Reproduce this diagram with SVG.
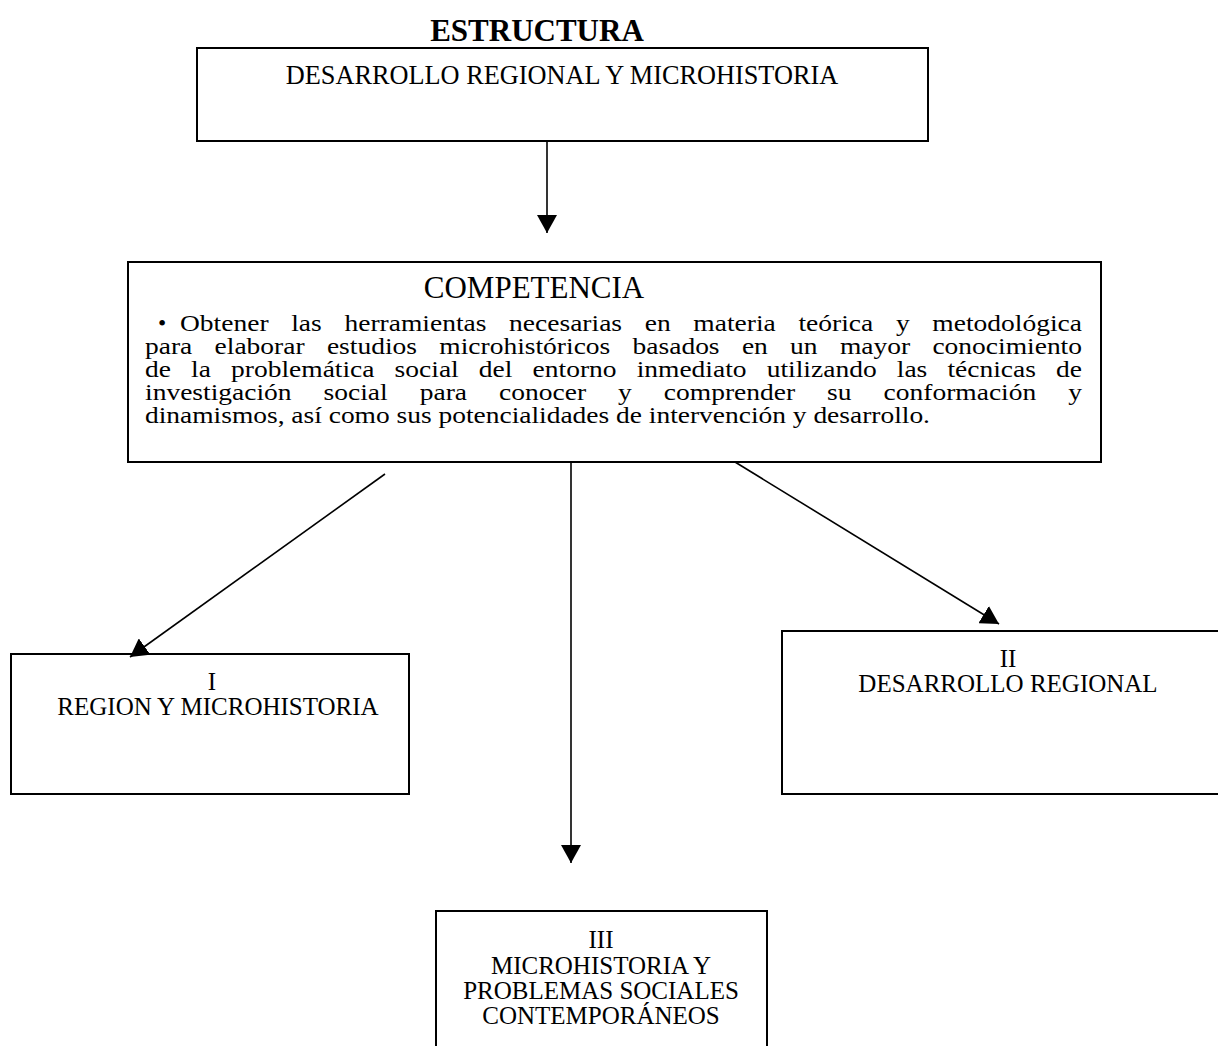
<svg xmlns="http://www.w3.org/2000/svg" width="1218" height="1046" viewBox="0 0 1218 1046">
<style>
.box{fill:#fff;stroke:#000;stroke-width:2}
.t{font-family:"Liberation Serif","Times New Roman",serif;fill:#000}
.lbl{font-size:25px;text-anchor:middle}
.top{font-size:26.3px;text-anchor:middle}
.head{font-size:31px;text-anchor:middle}
.body{font-size:23.5px}
.conn line{stroke:#000;stroke-width:1.6;marker-end:url(#ah)}
</style>
<defs>
<marker id="ah" viewBox="0 0 18 20" refX="18" refY="10" markerWidth="18" markerHeight="20" markerUnits="userSpaceOnUse" orient="auto">
<path d="M0,0 L18,10 L0,20 z" fill="#000"/>
</marker>
</defs>
<rect width="1218" height="1046" fill="#fff"/>
<text class="t head" x="537" y="41" font-weight="bold">ESTRUCTURA</text>
<g id="n-top">
<rect class="box" x="197" y="48" width="731" height="93"/>
<text class="t top" x="562" y="84">DESARROLLO REGIONAL Y MICROHISTORIA</text>
</g>
<g id="n-comp">
<rect class="box" x="128" y="262" width="973" height="200"/>
<text class="t head" x="534" y="298">COMPETENCIA</text>
<text class="t body" x="158" y="331" font-size="26">•</text>
<text class="t body" x="180" y="331" word-spacing="13.5" textLength="902" lengthAdjust="spacingAndGlyphs">Obtener las herramientas necesarias en materia teórica y metodológica</text>
<text class="t body" x="145" y="354" word-spacing="13.2" textLength="937" lengthAdjust="spacingAndGlyphs">para elaborar estudios microhistóricos basados en un mayor conocimiento</text>
<text class="t body" x="145" y="377" word-spacing="11.3" textLength="937" lengthAdjust="spacingAndGlyphs">de la problemática social del entorno inmediato utilizando las técnicas de</text>
<text class="t body" x="145" y="400" word-spacing="21.5" textLength="937" lengthAdjust="spacingAndGlyphs">investigación social para conocer y comprender su conformación y</text>
<text class="t body" x="145" y="423" textLength="785" lengthAdjust="spacingAndGlyphs">dinamismos, así como sus potencialidades de intervención y desarrollo.</text>
</g>
<g id="n-1">
<rect class="box" x="11" y="654" width="398" height="140"/>
<text class="t lbl" x="212" y="690">I</text>
<text class="t lbl" x="218" y="715">REGION Y MICROHISTORIA</text>
</g>
<g id="n-2">
<rect class="box" x="782" y="631" width="440" height="163"/>
<text class="t lbl" x="1008" y="667">II</text>
<text class="t lbl" x="1008" y="692">DESARROLLO REGIONAL</text>
</g>
<g id="n-3">
<rect class="box" x="436" y="911" width="331" height="140"/>
<text class="t lbl" x="601" y="948">III</text>
<text class="t lbl" x="601" y="974">MICROHISTORIA Y</text>
<text class="t lbl" x="601" y="999">PROBLEMAS SOCIALES</text>
<text class="t lbl" x="601" y="1024">CONTEMPORÁNEOS</text>
</g>
<g id="connectors" class="conn">
<line x1="547" y1="141" x2="547" y2="233"/>
<line x1="385" y1="474" x2="130" y2="657"/>
<line x1="571" y1="462" x2="571" y2="863"/>
<line x1="735" y1="462" x2="999" y2="624"/>
</g>
</svg>
